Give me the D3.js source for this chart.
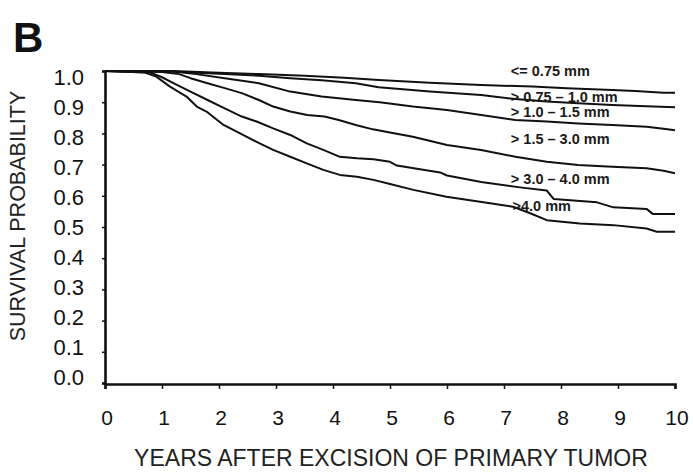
<!DOCTYPE html>
<html>
<head>
<meta charset="utf-8">
<script src="https://cdn.jsdelivr.net/npm/d3@7/dist/d3.min.js"></script>
<style>
  html, body { margin: 0; padding: 0; background: #fff; }
  svg { display: block; font-family: "Liberation Sans", Arial, sans-serif; }
</style>
</head>
<body>
<svg id="chart" width="693" height="473"></svg>
<script>
// ---- data ----
const seriesNames = ["<= 0.75 mm", "> 0.75 – 1.0 mm", "> 1.0 – 1.5 mm", "> 1.5 – 3.0 mm", "> 3.0 – 4.0 mm", ">4.0 mm"];

const le075 = [[0,1],[1.2,1.0],[2.0,0.994],[2.7,0.99],[3.5,0.985],[4.2,0.978],[4.8,0.971],[5.7,0.962],[6.6,0.955],[7.5,0.950],[8.1,0.945],[8.9,0.939],[9.3,0.936],[9.8,0.930],[10,0.930]];
const g075_10 = [[0,1],[1.0,1.0],[1.5,0.995],[2.1,0.99],[2.7,0.985],[3.25,0.977],[3.8,0.97],[4.4,0.961],[4.8,0.948],[5.7,0.934],[6.6,0.923],[7.2,0.91],[7.75,0.902],[8.3,0.897],[8.9,0.891],[9.5,0.887],[10,0.884]];
const g10_15 = [[0,1],[1.2,0.998],[1.6,0.99],[2.1,0.977],[2.7,0.961],[3.25,0.934],[3.8,0.918],[4.4,0.907],[4.82,0.900],[5.4,0.886],[6.0,0.875],[6.6,0.859],[7.2,0.843],[7.75,0.838],[8.3,0.832],[8.9,0.827],[9.5,0.821],[9.8,0.815],[10,0.81]];
const g15_30 = [[0,1],[1.0,0.997],[1.3,0.99],[1.5,0.977],[1.8,0.961],[2.1,0.945],[2.4,0.929],[2.7,0.907],[2.95,0.886],[3.25,0.870],[3.55,0.859],[3.85,0.854],[4.1,0.843],[4.4,0.827],[4.7,0.813],[5.0,0.803],[5.4,0.789],[6.0,0.763],[6.6,0.747],[7.2,0.725],[7.75,0.709],[8.3,0.699],[8.9,0.693],[9.5,0.688],[9.8,0.68],[10,0.672]];
const g30_40 = [[0,1],[0.8,0.995],[1.0,0.98],[1.2,0.961],[1.5,0.934],[1.8,0.907],[2.1,0.88],[2.4,0.854],[2.66,0.838],[2.95,0.816],[3.25,0.795],[3.54,0.768],[3.83,0.747],[4.12,0.725],[4.42,0.72],[4.71,0.717],[5.0,0.709],[5.12,0.697],[5.88,0.675],[6.0,0.665],[6.6,0.644],[7.28,0.627],[7.75,0.617],[7.87,0.59],[8.63,0.579],[8.92,0.563],[9.5,0.558],[9.61,0.542],[10,0.542]];
const g40 = [[0,1],[0.7,0.995],[0.9,0.982],[1.14,0.95],[1.43,0.918],[1.61,0.886],[1.78,0.87],[2.08,0.827],[2.37,0.80],[2.66,0.773],[2.95,0.747],[3.25,0.725],[3.54,0.704],[3.83,0.683],[4.12,0.667],[4.42,0.661],[4.71,0.651],[5.0,0.638],[5.41,0.619],[5.99,0.597],[6.58,0.581],[7.16,0.565],[7.46,0.544],[7.75,0.522],[8.33,0.511],[8.92,0.506],[9.5,0.495],[9.68,0.485],[10,0.485]];

const allSeries = [le075, g075_10, g10_15, g15_30, g30_40, g40];
// label anchor (years, survival) for each series label
const labelYear = [7.12, 7.12, 7.12, 7.12, 7.12, 7.15];
const labelSurv = [1.0, 0.918, 0.868, 0.782, 0.654, 0.569];

const xTicks = [0,1,2,3,4,5,6,7,8,9,10];
const yTicks = [0,0.1,0.2,0.3,0.4,0.5,0.6,0.7,0.8,0.9,1.0];
const panelLetter = "B";
const yTitle = "SURVIVAL PROBABILITY";
const xTitle = "YEARS AFTER EXCISION OF PRIMARY TUMOR";

// ---- drawing ----
const svg = d3.select("#chart");
const ink = "#111";

const x = d3.scaleLinear().domain([0, 10]).range([105, 675]);
const y = d3.scaleLinear().domain([0, 1]).range([383, 71]);
const yLab = d3.scaleLinear().domain([0, 1]).range([377, 77]);

// panel letter
svg.append("text").attr("x", 13).attr("y", 52)
  .attr("font-size", 42).attr("font-weight", "bold").attr("fill", ink)
  .text(panelLetter);

// curves
const line = d3.line().x(d => x(d[0])).y(d => y(d[1]));
svg.append("g").selectAll("path").data(allSeries).join("path")
  .attr("d", line).attr("fill", "none").attr("stroke", ink)
  .attr("stroke-width", 2).attr("stroke-linejoin", "round");

// y axis
const gy = svg.append("g").attr("transform", `translate(${x(0)},0)`)
  .call(d3.axisLeft(y).tickValues(yTicks).tickSize(3).tickFormat(""));
gy.select(".domain").attr("stroke", ink).attr("stroke-width", 2.6);
gy.selectAll(".tick line").attr("stroke", ink).attr("stroke-width", 1.5);

svg.append("g").selectAll("text").data(yTicks).join("text")
  .attr("x", 84).attr("y", d => yLab(d)).attr("dy", "0.36em")
  .attr("text-anchor", "end").attr("font-size", 22).attr("fill", ink)
  .text(d => d3.format(".1f")(d));

// x axis
const gx = svg.append("g").attr("transform", `translate(0,${y(0) + 1})`)
  .call(d3.axisBottom(x).tickValues(xTicks).tickSize(5).tickSizeOuter(5).tickFormat(""));
gx.select(".domain").attr("stroke", ink).attr("stroke-width", 2.6);
gx.selectAll(".tick line").attr("stroke", ink).attr("stroke-width", 1.5);

svg.append("g").selectAll("text").data(xTicks).join("text")
  .attr("x", d => x(d) + 2).attr("y", 425)
  .attr("text-anchor", "middle").attr("font-size", 21).attr("fill", ink)
  .text(d => d);

// axis titles
svg.append("text").attr("transform", "translate(25,216) rotate(-90)")
  .attr("text-anchor", "middle").attr("font-size", 21.5).attr("fill", "#222")
  .text(yTitle);
svg.append("text").attr("x", 391).attr("y", 466)
  .attr("text-anchor", "middle").attr("font-size", 23).attr("fill", "#222")
  .text(xTitle);

// series labels
svg.append("g").selectAll("text").data(seriesNames).join("text")
  .attr("x", (d, i) => x(labelYear[i])).attr("y", (d, i) => y(labelSurv[i]))
  .attr("dy", "0.36em").attr("font-size", 14.5).attr("font-weight", "bold")
  .attr("fill", "#1a1a1a")
  .text(d => d);
</script>
</body>
</html>
